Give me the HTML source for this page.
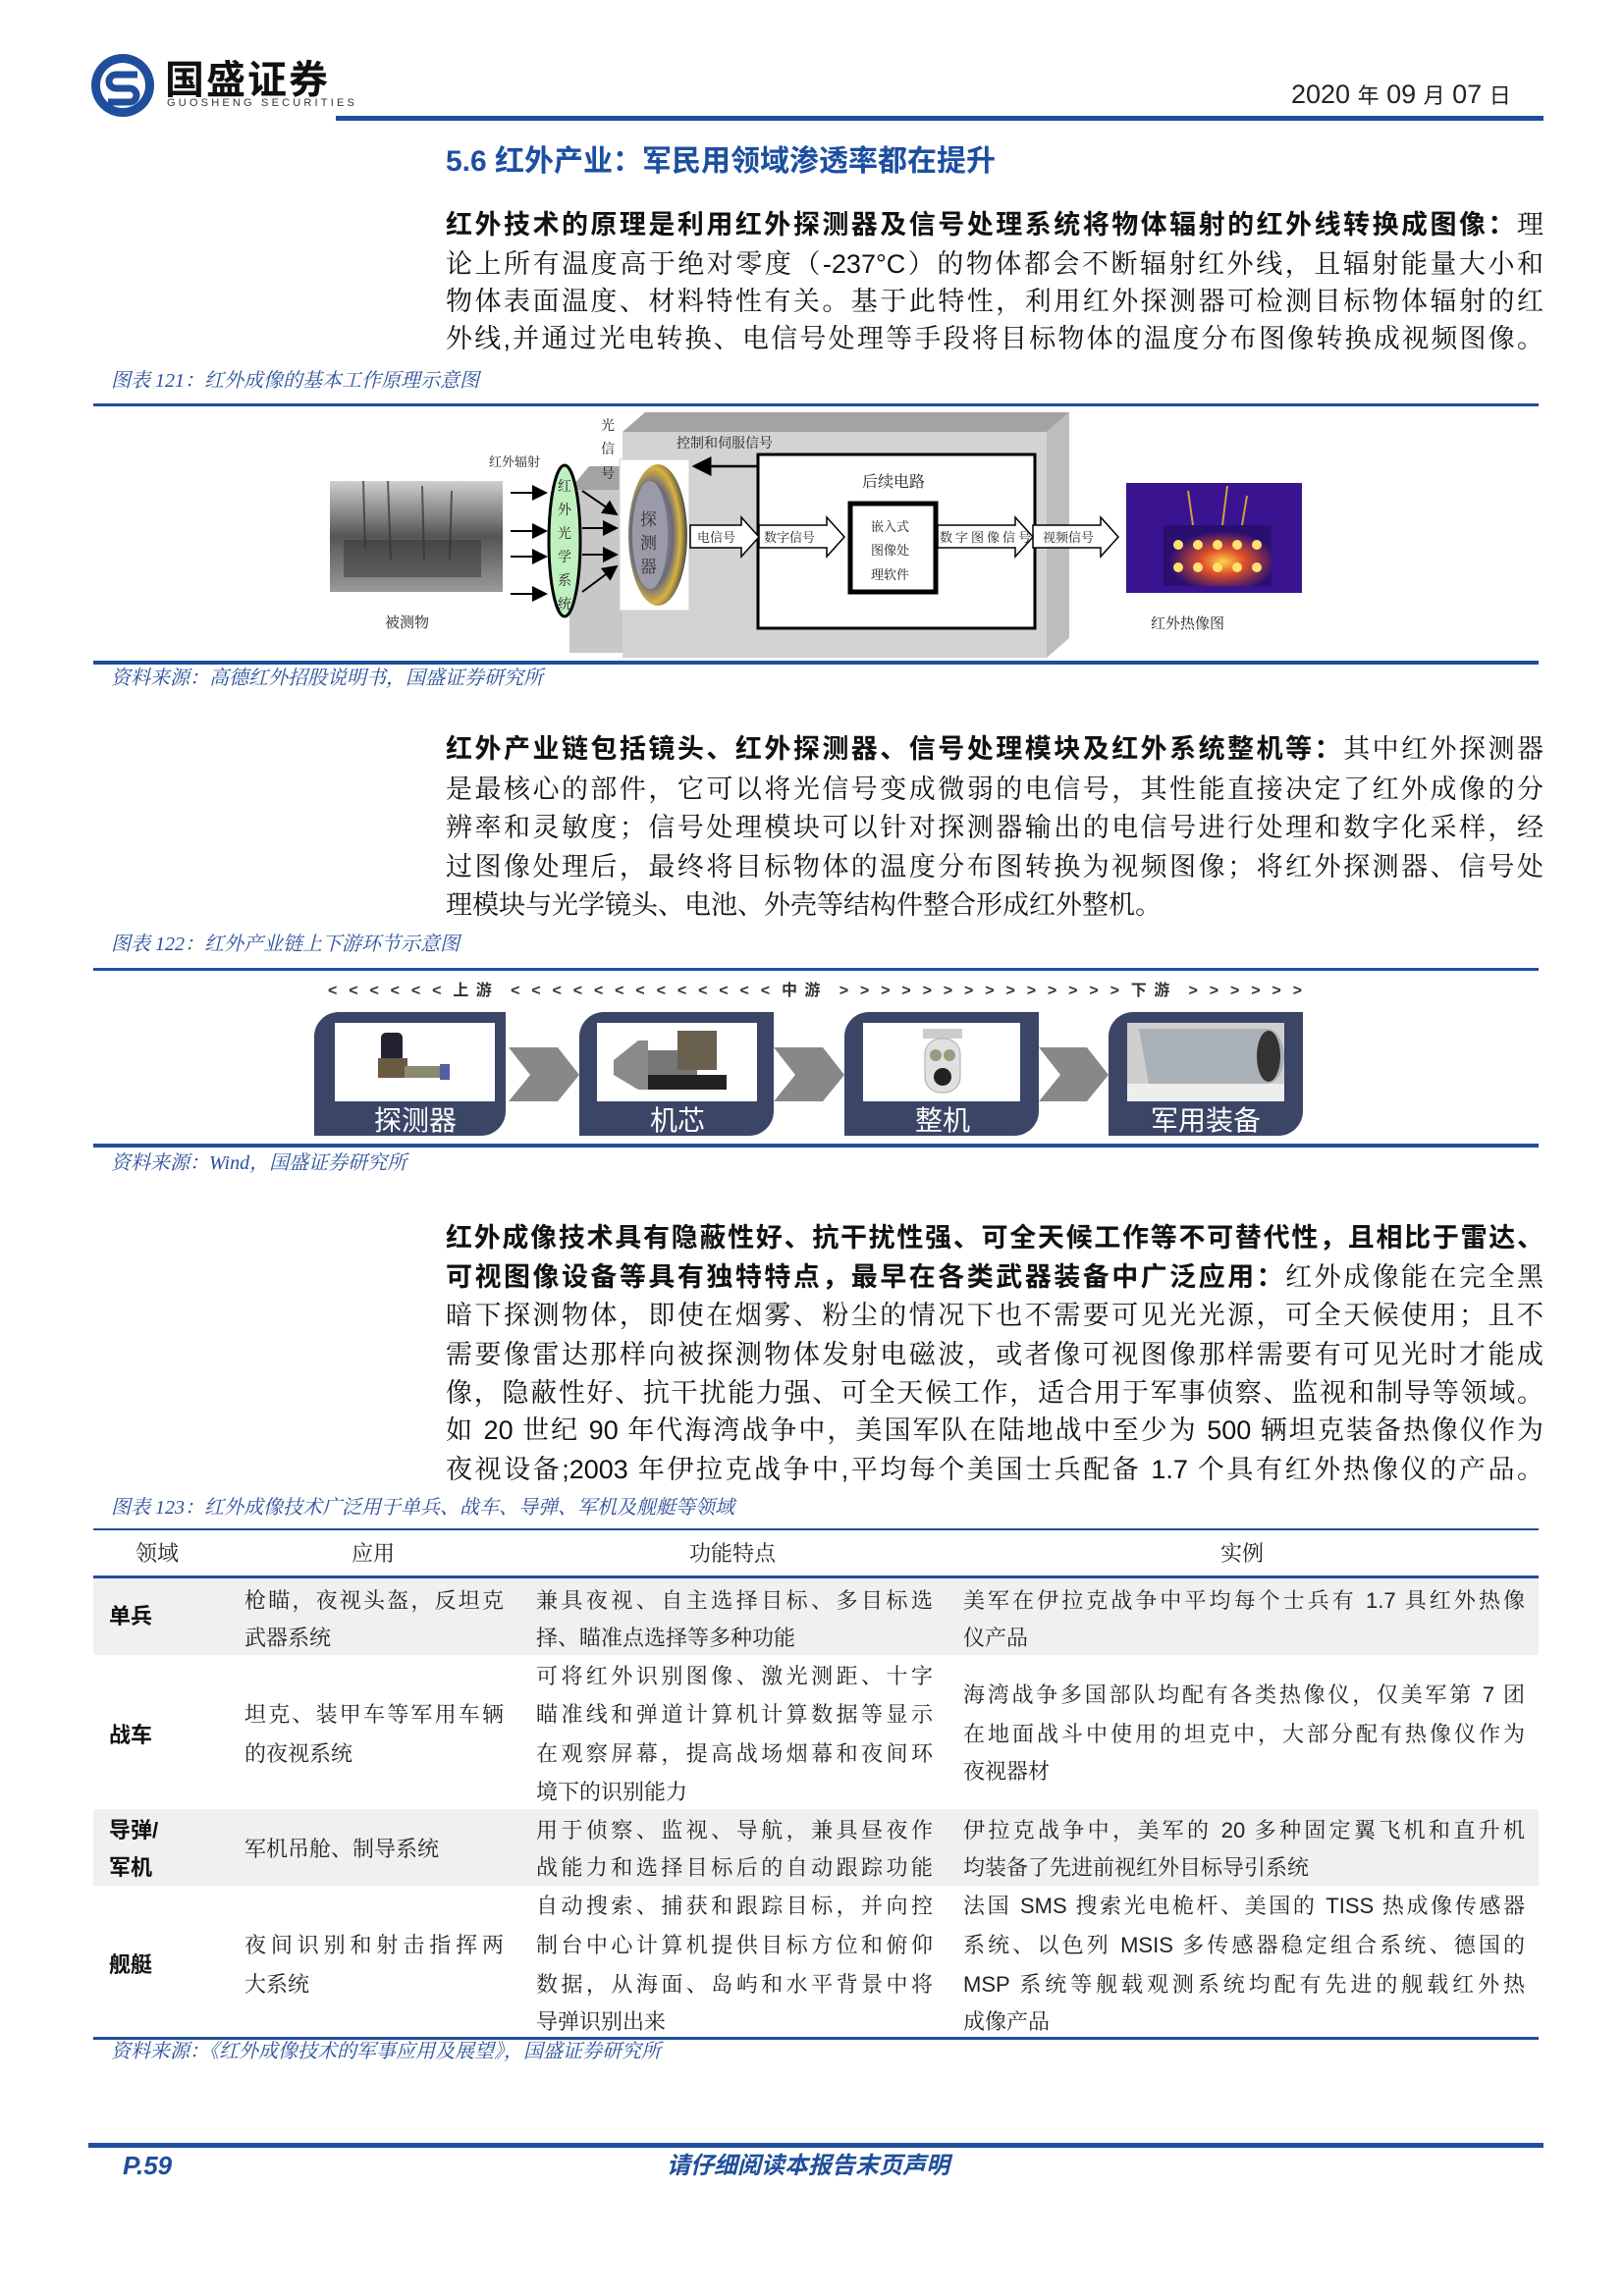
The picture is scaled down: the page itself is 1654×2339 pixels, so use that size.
<!DOCTYPE html>
<html><head><meta charset="utf-8">
<style>
*{margin:0;padding:0;box-sizing:border-box}
body{width:1654px;height:2339px;background:#fff;position:relative;overflow:hidden;font-family:"Liberation Sans","Noto Sans CJK SC",sans-serif;color:#111}
.a{position:absolute;white-space:nowrap}
.p{position:absolute;left:454px;width:1118px;font-size:27px;height:40px;line-height:40px;font-family:"Liberation Sans","Noto Serif CJK SC",serif;text-align:justify;text-align-last:justify;white-space:nowrap}
.p b{font-family:"Liberation Sans","Noto Sans CJK SC",sans-serif;font-weight:700}
.cap{position:absolute;left:113px;font-size:20px;color:#2a4f9a;font-style:italic;height:30px;line-height:30px;font-family:"Liberation Serif","Noto Serif CJK SC",serif}
.hl{position:absolute;left:95px;width:1472px;background:#1f4e9c}
.td{position:absolute;font-size:22px;height:38px;line-height:38px;font-family:"Liberation Sans","Noto Serif CJK SC",serif;white-space:nowrap;text-align:justify;text-align-last:justify;color:#222}
.tl{text-align-last:left}
.rb{position:absolute;left:111px;font-size:22px;font-weight:700;height:38px;line-height:38px}
</style></head><body>

<!-- header -->
<svg class="a" style="left:90px;top:52px" width="72" height="72" viewBox="0 0 72 72">
<circle cx="35" cy="35" r="32" fill="#1f4e9c"/>
<circle cx="35" cy="35" r="23" fill="#fff"/>
<path d="M50 24 H28 a7 7 0 0 0 0 14 H42 a7 7 0 0 1 0 14 H20" fill="none" stroke="#1f4e9c" stroke-width="7"/>
</svg>
<div class="a" style="left:168px;top:56px;font-size:40px;font-weight:700;line-height:44px;font-family:'Noto Sans CJK SC',sans-serif;letter-spacing:2px">国盛证券</div>
<div class="a" style="left:170px;top:99px;font-size:11px;letter-spacing:3.2px;line-height:12px;color:#333">GUOSHENG SECURITIES</div>
<div class="a" style="left:1315px;top:80px;font-size:27px;line-height:32px;color:#222">2020 <span style="font-size:22px">年</span> 09 <span style="font-size:22px">月</span> 07 <span style="font-size:22px">日</span></div>
<div class="a" style="left:342px;top:118px;width:1230px;height:5px;background:#1f4e9c"></div>

<div class="a" style="left:454px;top:145px;font-size:30px;font-weight:700;color:#1c4fa0;line-height:40px;font-family:'Liberation Sans','Noto Sans CJK SC',sans-serif">5.6 红外产业：军民用领域渗透率都在提升</div>

<div class="p" style="top:209px"><b>红外技术的原理是利用红外探测器及信号处理系统将物体辐射的红外线转换成图像：</b>理</div>
<div class="p" style="top:249px">论上所有温度高于绝对零度（-237°C）的物体都会不断辐射红外线，且辐射能量大小和</div>
<div class="p" style="top:287px">物体表面温度、材料特性有关。基于此特性，利用红外探测器可检测目标物体辐射的红</div>
<div class="p" style="top:325px">外线,并通过光电转换、电信号处理等手段将目标物体的温度分布图像转换成视频图像。</div>

<div class="cap" style="top:373px">图表 121：红外成像的基本工作原理示意图</div>
<div class="hl" style="top:411px;height:3px"></div>

<!-- figure 121 -->
<svg class="a" style="left:0;top:0" width="1654" height="720">
<defs>
<marker id="ah" markerWidth="8" markerHeight="8" refX="7" refY="4" orient="auto"><path d="M0,0 L8,4 L0,8z" fill="#000"/></marker>
<linearGradient id="ph" x1="0" y1="0" x2="0" y2="1"><stop offset="0" stop-color="#cfcfcf"/><stop offset=".5" stop-color="#555"/><stop offset="1" stop-color="#9a9a9a"/></linearGradient>
<radialGradient id="th" cx=".55" cy=".6" r=".5"><stop offset="0" stop-color="#ffd24a"/><stop offset=".4" stop-color="#e0502a"/><stop offset="1" stop-color="#2a0f70"/></radialGradient>
<radialGradient id="ln" cx=".4" cy=".5" r=".6"><stop offset="0" stop-color="#b0b0c0"/><stop offset=".6" stop-color="#6a6a78"/><stop offset=".8" stop-color="#d8b340"/><stop offset="1" stop-color="#444"/></radialGradient>
</defs>
<!-- big gray box -->
<polygon points="634,440 657,420 1089,420 1066,440" fill="#a3a3a3"/>
<polygon points="1066,440 1089,420 1089,650 1066,670" fill="#bdbdbd"/>
<rect x="634" y="440" width="432" height="230" fill="#d3d3d3"/>
<!-- small block -->
<polygon points="580,499 600,475 634,475 634,499" fill="#a3a3a3"/>
<rect x="580" y="499" width="54" height="166" fill="#c8c8c8"/>
<!-- photo -->
<rect x="336" y="490" width="176" height="113" fill="url(#ph)"/>
<g stroke="#333" stroke-width="2" opacity=".7"><line x1="370" y1="490" x2="372" y2="560"/><line x1="395" y1="490" x2="398" y2="570"/><line x1="430" y1="495" x2="432" y2="570"/><line x1="460" y1="500" x2="458" y2="570"/></g>
<rect x="350" y="550" width="140" height="38" fill="#333" opacity=".5"/>
<!-- arrows to ellipse -->
<g stroke="#000" stroke-width="2" marker-end="url(#ah)">
<line x1="520" y1="502" x2="556" y2="502"/><line x1="520" y1="541" x2="556" y2="541"/><line x1="520" y1="567" x2="556" y2="567"/><line x1="520" y1="605" x2="556" y2="605"/>
<line x1="593" y1="500" x2="628" y2="524"/><line x1="593" y1="538" x2="628" y2="538"/><line x1="593" y1="565" x2="628" y2="565"/><line x1="593" y1="603" x2="628" y2="577"/>
</g>
<ellipse cx="575" cy="551" rx="16" ry="77" fill="#bff0c0" stroke="#000" stroke-width="3"/>
<!-- detector -->
<rect x="631" y="468" width="71" height="154" fill="#fff" stroke="#ccc"/>
<ellipse cx="670" cy="545" rx="30" ry="72" fill="url(#ln)"/>
<ellipse cx="662" cy="545" rx="18" ry="55" fill="#9a9aa8"/>
<!-- back arrow -->
<line x1="771" y1="475" x2="707" y2="475" stroke="#000" stroke-width="2.5" marker-end="url(#ah)"/>
<!-- white box -->
<rect x="772" y="463" width="282" height="177" fill="#fff" stroke="#000" stroke-width="3"/>
<rect x="866" y="513" width="87" height="90" fill="#fff" stroke="#000" stroke-width="5"/>
<!-- block arrows -->
<g fill="#fff" stroke="#000" stroke-width="1.5">
<polygon points="703,535 755,535 755,527 773,547 755,567 755,558 703,558"/>
<polygon points="773,535 842,535 842,527 860,547 842,567 842,558 773,558"/>
<polygon points="955,535 1034,535 1034,527 1052,547 1034,567 1034,558 955,558"/>
<polygon points="1052,535 1121,535 1121,527 1139,547 1121,567 1121,558 1052,558"/>
</g>
<!-- thermal -->
<rect x="1147" y="492" width="179" height="112" fill="#3a1490"/>
<rect x="1185" y="535" width="110" height="62" fill="url(#th)"/>
<g fill="#ffe070"><circle cx="1200" cy="555" r="5"/><circle cx="1220" cy="555" r="5"/><circle cx="1240" cy="555" r="5"/><circle cx="1260" cy="555" r="5"/><circle cx="1280" cy="555" r="5"/><circle cx="1200" cy="578" r="5"/><circle cx="1220" cy="578" r="5"/><circle cx="1240" cy="578" r="5"/><circle cx="1260" cy="578" r="5"/><circle cx="1280" cy="578" r="5"/></g>
<g stroke="#d0a040" stroke-width="2"><line x1="1210" y1="500" x2="1215" y2="535"/><line x1="1250" y1="495" x2="1245" y2="535"/><line x1="1270" y1="505" x2="1265" y2="535"/></g>
<g font-family="Liberation Serif,Noto Serif CJK SC,serif" font-size="14" fill="#222">
<text x="612" y="438">光</text><text x="612" y="462">信</text><text x="612" y="487">号</text>
<text x="689" y="456">控制和伺服信号</text>
<text x="498" y="475" font-size="13">红外辐射</text>
<text x="392" y="639" font-size="15">被测物</text>
<text x="1172" y="640" font-size="15">红外热像图</text>
<text x="878" y="496" font-size="16">后续电路</text>
<text x="887" y="541" font-size="13">嵌入式</text><text x="887" y="565" font-size="13">图像处</text><text x="887" y="590" font-size="13">理软件</text>
<text x="710" y="552" font-size="13">电信号</text>
<text x="778" y="552" font-size="13">数字信号</text>
<text x="957" y="552" font-size="13" textLength="93">数字图像信号</text>
<text x="1062" y="552" font-size="13">视频信号</text>
<g font-size="14"><text x="568" y="500">红</text><text x="568" y="524">外</text><text x="568" y="548">光</text><text x="568" y="572">学</text><text x="568" y="596">系</text><text x="568" y="620">统</text></g>
<g font-size="17" fill="#333"><text x="652" y="535">探</text><text x="652" y="559">测</text><text x="652" y="583">器</text></g>
</g>
</svg>
<div class="hl" style="top:673px;height:4px"></div>
<div class="cap" style="top:676px">资料来源：高德红外招股说明书，国盛证券研究所</div>

<!-- para 2 -->
<div class="p" style="top:743px"><b>红外产业链包括镜头、红外探测器、信号处理模块及红外系统整机等：</b>其中红外探测器</div>
<div class="p" style="top:784px">是最核心的部件，它可以将光信号变成微弱的电信号，其性能直接决定了红外成像的分</div>
<div class="p" style="top:823px">辨率和灵敏度；信号处理模块可以针对探测器输出的电信号进行处理和数字化采样，经</div>
<div class="p" style="top:863px">过图像处理后，最终将目标物体的温度分布图转换为视频图像；将红外探测器、信号处</div>
<div class="p" style="top:902px;text-align-last:left">理模块与光学镜头、电池、外壳等结构件整合形成红外整机。</div>

<div class="cap" style="top:947px">图表 122：红外产业链上下游环节示意图</div>
<div class="hl" style="top:986px;height:3px"></div>

<div class="a" style="left:334px;top:999px;width:992px;font-size:16px;font-weight:700;color:#333;line-height:22px;text-align:justify;text-align-last:justify;white-space:normal">&lt; &lt; &lt; &lt; &lt; &lt; 上游 &lt; &lt; &lt; &lt; &lt; &lt; &lt; &lt; &lt; &lt; &lt; &lt; &lt; 中游 &gt; &gt; &gt; &gt; &gt; &gt; &gt; &gt; &gt; &gt; &gt; &gt; &gt; &gt; 下游 &gt; &gt; &gt; &gt; &gt; &gt;</div>

<svg class="a" style="left:0;top:1020px" width="1654" height="150">
<g fill="#3b4566">
<path d="M345,11 H515 V112 a25,25 0 0 1 -25,25 H320 V36 a25,25 0 0 1 25,-25z"/>
<path d="M615,11 H788 V112 a25,25 0 0 1 -25,25 H590 V36 a25,25 0 0 1 25,-25z"/>
<path d="M885,11 H1058 V112 a25,25 0 0 1 -25,25 H860 V36 a25,25 0 0 1 25,-25z"/>
<path d="M1154,11 H1327 V112 a25,25 0 0 1 -25,25 H1129 V36 a25,25 0 0 1 25,-25z"/>
</g>
<g fill="#888"><polygon points="518,47 568,47 590,75 568,102 518,102 540,75"/><polygon points="788,47 838,47 860,75 838,102 788,102 810,75"/><polygon points="1058,47 1107,47 1129,75 1107,102 1058,102 1080,75"/></g>
<g fill="#fff"><rect x="341" y="22" width="163" height="80"/><rect x="608" y="22" width="163" height="80"/><rect x="879" y="22" width="160" height="80"/><rect x="1148" y="22" width="160" height="80"/></g>
<!-- icons -->
<rect x="388" y="32" width="22" height="30" rx="5" fill="#223"/><rect x="385" y="58" width="30" height="20" fill="#6a5a40"/><rect x="412" y="66" width="40" height="12" fill="#8a8a70"/><rect x="448" y="64" width="10" height="16" fill="#5060a0"/>
<polygon points="625,60 650,40 660,40 660,90 650,90 625,75" fill="#8a8a8a"/><rect x="660" y="50" width="50" height="25" fill="#777"/><rect x="690" y="30" width="40" height="40" fill="#6a6050"/><rect x="660" y="75" width="80" height="15" fill="#222"/>
<rect x="940" y="28" width="40" height="10" fill="#ccc"/><rect x="942" y="38" width="36" height="55" rx="16" fill="#e0e0e0" stroke="#aaa"/><circle cx="953" cy="55" r="6" fill="#9a9a80"/><circle cx="967" cy="55" r="6" fill="#9a9a80"/><circle cx="960" cy="77" r="9" fill="#222"/>
<rect x="1148" y="22" width="160" height="80" fill="#cfcfcf"/><path d="M1160,28 H1290 a18,28 0 0 1 0,56 H1170 z" fill="#a9b0b8"/><ellipse cx="1292" cy="56" rx="12" ry="26" fill="#333"/><rect x="1148" y="84" width="160" height="18" fill="#eee"/>
<g fill="#fff" font-family="Liberation Sans,Noto Sans CJK SC,sans-serif" font-size="28" text-anchor="middle">
<text x="423" y="131">探测器</text><text x="690" y="131">机芯</text><text x="960" y="131">整机</text><text x="1228" y="131">军用装备</text></g>
</svg>
<div class="hl" style="top:1165px;height:4px"></div>
<div class="cap" style="top:1170px">资料来源：Wind，国盛证券研究所</div>

<!-- para 3 -->
<div class="p" style="top:1241px"><b>红外成像技术具有隐蔽性好、抗干扰性强、可全天候工作等不可替代性，且相比于雷达、</b></div>
<div class="p" style="top:1281px"><b>可视图像设备等具有独特特点，最早在各类武器装备中广泛应用：</b>红外成像能在完全黑</div>
<div class="p" style="top:1320px">暗下探测物体，即使在烟雾、粉尘的情况下也不需要可见光光源，可全天候使用；且不</div>
<div class="p" style="top:1360px">需要像雷达那样向被探测物体发射电磁波，或者像可视图像那样需要有可见光时才能成</div>
<div class="p" style="top:1399px">像，隐蔽性好、抗干扰能力强、可全天候工作，适合用于军事侦察、监视和制导等领域。</div>
<div class="p" style="top:1437px">如 20 世纪 90 年代海湾战争中，美国军队在陆地战中至少为 500 辆坦克装备热像仪作为</div>
<div class="p" style="top:1477px">夜视设备;2003 年伊拉克战争中,平均每个美国士兵配备 1.7 个具有红外热像仪的产品。</div>

<div class="cap" style="top:1521px">图表 123：红外成像技术广泛用于单兵、战车、导弹、军机及舰艇等领域</div>

<!-- table -->
<div class="hl" style="top:1557px;height:2px"></div>
<div class="a" style="left:95px;top:1608px;width:1472px;height:78px;background:#f0f0f0"></div>
<div class="a" style="left:95px;top:1843px;width:1472px;height:78px;background:#f0f0f0"></div>
<div class="hl" style="top:1605px;height:3px"></div>
<div class="hl" style="top:2075px;height:3px"></div>
<div class="td" style="left:138px;top:1564px;text-align-last:left">领域</div>
<div class="td" style="left:358px;top:1564px;text-align-last:left">应用</div>
<div class="td" style="left:702px;top:1564px;text-align-last:left">功能特点</div>
<div class="td" style="left:1243px;top:1564px;text-align-last:left">实例</div>

<div class="rb" style="top:1628px">单兵</div>
<div class="td" style="left:249px;width:264px;top:1612px">枪瞄，夜视头盔，反坦克</div>
<div class="td tl" style="left:249px;top:1650px">武器系统</div>
<div class="td" style="left:546px;width:404px;top:1612px">兼具夜视、自主选择目标、多目标选</div>
<div class="td tl" style="left:546px;top:1650px">择、瞄准点选择等多种功能</div>
<div class="td" style="left:981px;width:572px;top:1612px">美军在伊拉克战争中平均每个士兵有 1.7 具红外热像</div>
<div class="td tl" style="left:981px;top:1650px">仪产品</div>

<div class="rb" style="top:1749px">战车</div>
<div class="td" style="left:249px;width:264px;top:1728px">坦克、装甲车等军用车辆</div>
<div class="td tl" style="left:249px;top:1768px">的夜视系统</div>
<div class="td" style="left:546px;width:404px;top:1689px">可将红外识别图像、激光测距、十字</div>
<div class="td" style="left:546px;width:404px;top:1728px">瞄准线和弹道计算机计算数据等显示</div>
<div class="td" style="left:546px;width:404px;top:1768px">在观察屏幕，提高战场烟幕和夜间环</div>
<div class="td tl" style="left:546px;top:1807px">境下的识别能力</div>
<div class="td" style="left:981px;width:572px;top:1708px">海湾战争多国部队均配有各类热像仪，仅美军第 7 团</div>
<div class="td" style="left:981px;width:572px;top:1748px">在地面战斗中使用的坦克中，大部分配有热像仪作为</div>
<div class="td tl" style="left:981px;top:1786px">夜视器材</div>

<div class="rb" style="top:1846px">导弹/</div>
<div class="rb" style="top:1884px">军机</div>
<div class="td tl" style="left:249px;top:1865px">军机吊舱、制导系统</div>
<div class="td" style="left:546px;width:404px;top:1846px">用于侦察、监视、导航，兼具昼夜作</div>
<div class="td" style="left:546px;width:404px;top:1884px">战能力和选择目标后的自动跟踪功能</div>
<div class="td" style="left:981px;width:572px;top:1846px">伊拉克战争中，美军的 20 多种固定翼飞机和直升机</div>
<div class="td tl" style="left:981px;top:1884px">均装备了先进前视红外目标导引系统</div>

<div class="rb" style="top:1983px">舰艇</div>
<div class="td" style="left:249px;width:264px;top:1963px">夜间识别和射击指挥两</div>
<div class="td tl" style="left:249px;top:2003px">大系统</div>
<div class="td" style="left:546px;width:404px;top:1923px">自动搜索、捕获和跟踪目标，并向控</div>
<div class="td" style="left:546px;width:404px;top:1963px">制台中心计算机提供目标方位和俯仰</div>
<div class="td" style="left:546px;width:404px;top:2003px">数据，从海面、岛屿和水平背景中将</div>
<div class="td tl" style="left:546px;top:2041px">导弹识别出来</div>
<div class="td" style="left:981px;width:572px;top:1923px">法国 SMS 搜索光电桅杆、美国的 TISS 热成像传感器</div>
<div class="td" style="left:981px;width:572px;top:1963px">系统、以色列 MSIS 多传感器稳定组合系统、德国的</div>
<div class="td" style="left:981px;width:572px;top:2003px">MSP 系统等舰载观测系统均配有先进的舰载红外热</div>
<div class="td tl" style="left:981px;top:2041px">成像产品</div>

<div class="cap" style="top:2075px">资料来源：《红外成像技术的军事应用及展望》，国盛证券研究所</div>

<!-- footer -->
<div class="a" style="left:90px;top:2183px;width:1482px;height:5px;background:#1f4e9c"></div>
<div class="a" style="left:125px;top:2191px;font-size:26px;font-weight:700;font-style:italic;color:#1f4e9c;line-height:30px">P.59</div>
<div class="a" style="left:679px;top:2192px;font-size:24px;font-weight:700;font-style:italic;color:#1f4e9c;line-height:30px;font-family:'Liberation Sans','Noto Sans CJK SC',sans-serif">请仔细阅读本报告末页声明</div>
</body></html>
